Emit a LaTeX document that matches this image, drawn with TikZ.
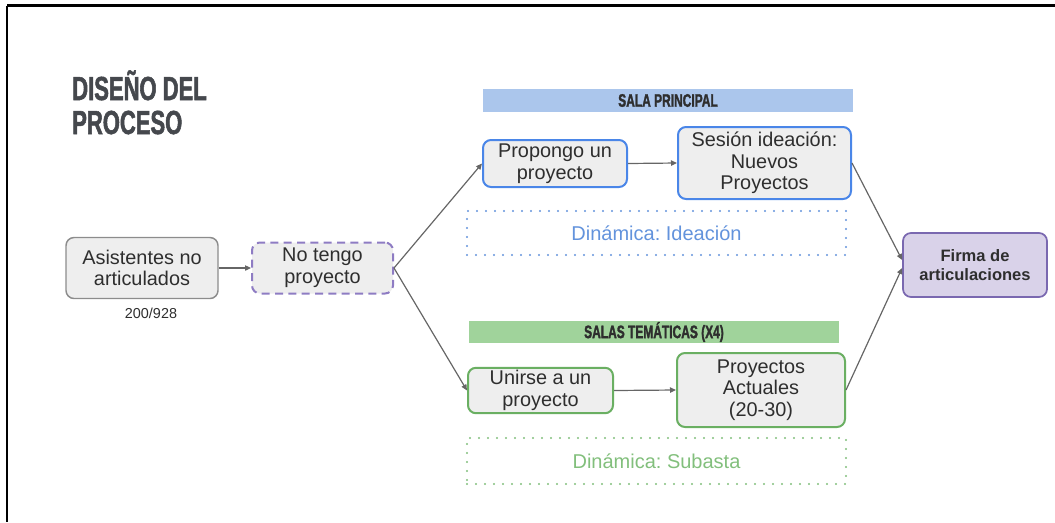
\documentclass[tikz,border=0pt]{standalone}
\usepackage{fontspec}
\setmainfont{Liberation Sans}
\newfontfamily\headfont[FakeStretch=0.66,FakeBold=1.6]{Liberation Sans Bold}
\usetikzlibrary{arrows.meta}
\frenchspacing

\definecolor{inkgray}{HTML}{2E2E2E}
\definecolor{titlegray}{HTML}{45484D}
\definecolor{boxfill}{HTML}{EEEEEE}
\definecolor{plainedge}{HTML}{8C8C8C}
\definecolor{blueedge}{HTML}{4A86E8}
\definecolor{bluebar}{HTML}{ABC6EC}
\definecolor{bluetext}{HTML}{6393DC}
\definecolor{greenedge}{HTML}{6AAF62}
\definecolor{greenbar}{HTML}{A0D39B}
\definecolor{greentext}{HTML}{82BF7C}
\definecolor{purpleedge}{HTML}{8E7CC3}
\definecolor{purplefill}{HTML}{D9D2E9}
\definecolor{purpledark}{HTML}{7A68B0}
\definecolor{arrowgray}{HTML}{666666}

\tikzset{
  procbox/.style={rectangle, rounded corners=6pt, fill=boxfill, line width=1.5pt,
    align=center, text=inkgray, inner sep=2pt,
    font=\fontsize{14.9}{16.2}\selectfont},
  plainbox/.style={procbox, draw=plainedge, line width=1.1pt},
  bluebox/.style={procbox, draw=blueedge},
  greenbox/.style={procbox, draw=greenedge},
  choicebox/.style={procbox, draw=purpleedge, dash pattern=on 6pt off 4pt},
  goalbox/.style={procbox, draw=purpledark, fill=purplefill, line width=1.3pt,
    font=\bfseries\fontsize{12.4}{14.5}\selectfont},
  dynbox/.style={rectangle, line width=1.6pt, line cap=round,
    dash pattern=on 0pt off 6.75pt, font=\fontsize{15}{16.5}\selectfont},
  roombar/.style={rectangle, inner sep=0pt, text=inkgray,
    font=\headfont\fontsize{13.6}{14}\selectfont},
  flow/.style={draw=arrowgray, line width=0.9pt,
    -{Triangle[length=4.5pt,width=4pt]}},
  heading/.style={anchor=base west, inner sep=0pt, text=titlegray,
    font=\headfont\fontsize{25}{25.5}\selectfont}
}

\begin{document}
\begin{tikzpicture}[x=0.75pt,y=-0.75pt]
  \useasboundingbox (0,0) rectangle (1055,522);

  % frame lines along the top and left edges
  \draw[line width=2pt, black] (7,5.5) -- (1055,5.5);
  \draw[line width=2pt, black] (7,5.5) -- (7,522);

  % heading
  \node[heading] (head1) at (72,100) {DISEÑO DEL};
  \node[heading] (head2) at (72,134) {PROCESO};

  % starting point
  \node[plainbox, minimum width=114pt, minimum height=45.75pt] (asist) at (142,268)
    {Asistentes no\\articulados};
  \node[text=inkgray, font=\fontsize{10.8}{12}\selectfont] (count) at (151,313) {200/928};

  \node[choicebox, minimum width=105.75pt, minimum height=38.25pt] (notengo) at (322.5,268)
    {No tengo\\proyecto};

  % main room
  \node[roombar, fill=bluebar, minimum width=277.5pt, minimum height=17.25pt] (salap) at (668,100.5)
    {SALA PRINCIPAL};
  \node[bluebox, minimum width=108pt, minimum height=35.25pt] (propongo) at (555,163.5)
    {Propongo un\\proyecto};
  \node[bluebox, minimum width=129.75pt, minimum height=54pt] (sesion) at (764.5,163)
    {Sesión ideación:\\Nuevos\\Proyectos};
  \node[dynbox, draw=bluetext, text=bluetext, minimum width=284.25pt, minimum height=33pt] (ideacion) at (656.5,233)
    {Dinámica: Ideación};

  % themed rooms
  \node[roombar, fill=greenbar, minimum width=277.5pt, minimum height=16.5pt] (salat) at (654,332)
    {SALAS TEMÁTICAS (X4)};
  \node[greenbox, minimum width=108.75pt, minimum height=33.75pt] (unirse) at (540.5,390.5)
    {Unirse a un\\proyecto};
  \node[greenbox, minimum width=126pt, minimum height=55.5pt] (actuales) at (761,390)
    {Proyectos\\Actuales\\(20-30)};
  \node[dynbox, draw=greentext, text=greentext, minimum width=284.25pt, minimum height=34.5pt] (subasta) at (656.5,461)
    {Dinámica: Subasta};

  % end point
  \node[goalbox, minimum width=108pt, minimum height=48pt] (firma) at (975,265)
    {Firma de\\articulaciones};

  % connectors
  \draw[flow] (asist.east) -- (notengo.west);
  \draw[flow] (notengo.east) -- (propongo.west);
  \draw[flow] (notengo.east) -- (unirse.west);
  \draw[flow] (propongo.east) -- (sesion.west);
  \draw[flow] (unirse.east) -- (actuales.west);
  \draw[flow] (sesion.east) -- ([yshift=3.75pt]firma.west);
  \draw[flow] (actuales.east) -- ([yshift=-2.25pt]firma.west);
\end{tikzpicture}
\end{document}
